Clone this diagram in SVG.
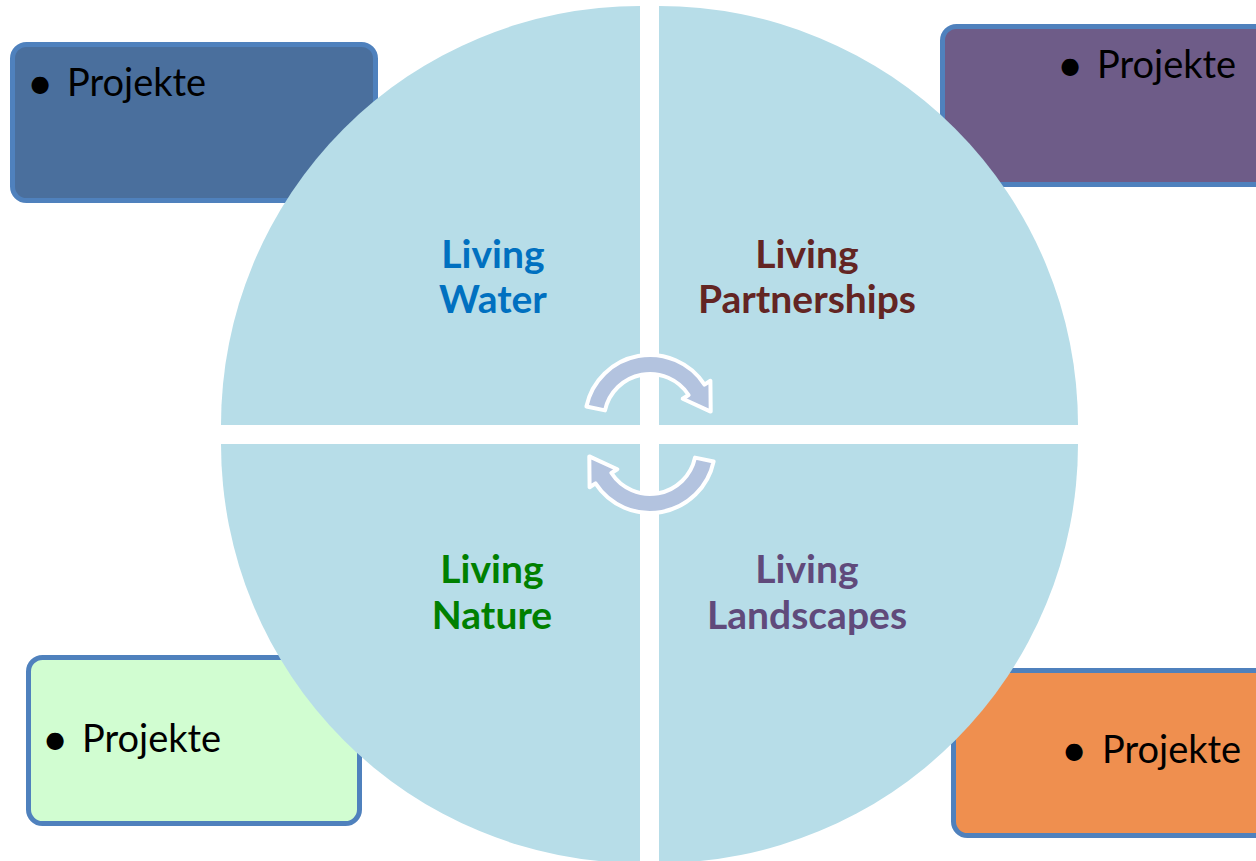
<svg xmlns="http://www.w3.org/2000/svg" width="1256" height="861" viewBox="0 0 1256 861">
<style>
.box{stroke:#4f81bd;stroke-width:5}
.q{fill:#b7dde8}
.bt{font-family:Lato,"Open Sans",sans-serif;font-size:38px;fill:#000}
.bul{font-family:Lato,"Open Sans",sans-serif;font-size:46px;fill:#000;text-anchor:middle}
.lbl{font-family:Lato,"Open Sans",sans-serif;font-weight:bold;font-size:39px;text-anchor:middle}
.arr{fill:#b3c3df;stroke:#fff;stroke-width:4;stroke-linejoin:round}
</style>
<rect width="1256" height="861" fill="#fff"/>
<g id="box-tl">
<rect class="box" x="12.5" y="44.5" width="363" height="156" rx="14" fill="#4a6f9d"/>
<text class="bul" x="40" y="99">•</text>
<text class="bt" x="67" y="96">Projekte</text>
</g>
<g id="box-tr">
<rect class="box" x="942.5" y="26.5" width="340" height="158" rx="14" fill="#6e5c88"/>
<text class="bul" x="1070" y="81">•</text>
<text class="bt" x="1097" y="78">Projekte</text>
</g>
<g id="box-bl">
<rect class="box" x="28.5" y="657.5" width="331" height="166" rx="14" fill="#d1fdd1"/>
<text class="bul" x="55" y="755">•</text>
<text class="bt" x="82" y="752">Projekte</text>
</g>
<g id="box-br">
<rect class="box" x="953.5" y="670.5" width="330" height="165" rx="14" fill="#ef8f4f"/>
<text class="bul" x="1074" y="766">•</text>
<text class="bt" x="1102" y="763">Projekte</text>
</g>
<g id="q-water">
<path class="q" d="M640,425 L221,425 A419,419 0 0 1 640,6 Z"/>
<text class="lbl" x="493" y="268" fill="#0070c0">Living</text>
<text class="lbl" x="493" y="313" fill="#0070c0">Water</text>
</g>
<g id="q-partnerships">
<path class="q" d="M659,425 L659,6 A419,419 0 0 1 1078,425 Z"/>
<text class="lbl" x="807" y="268" fill="#632523">Living</text>
<text class="lbl" x="807" y="313" fill="#632523">Partnerships</text>
</g>
<g id="q-nature">
<path class="q" d="M640,444 L640,863 A419,419 0 0 1 221,444 Z"/>
<text class="lbl" x="492" y="583" fill="#008000">Living</text>
<text class="lbl" x="492" y="629" fill="#008000">Nature</text>
</g>
<g id="q-landscapes">
<path class="q" d="M659,444 L1078,444 A419,419 0 0 1 659,863 Z"/>
<text class="lbl" x="807" y="583" fill="#604a7b">Living</text>
<text class="lbl" x="807" y="629" fill="#604a7b">Landscapes</text>
</g>
<g id="connectors">
<defs>
<path id="carrow" class="arr" d="M586.4,406.5 A65,65 0 0 1 704.5,384.6 L710.4,380.8 L710.7,411.6 L682.7,398.8 L688.6,395 A46,46 0 0 0 605,410.4 Z"/>
</defs>
<use href="#carrow"/>
<use href="#carrow" transform="rotate(180 650 434)"/>
</g>
</svg>
